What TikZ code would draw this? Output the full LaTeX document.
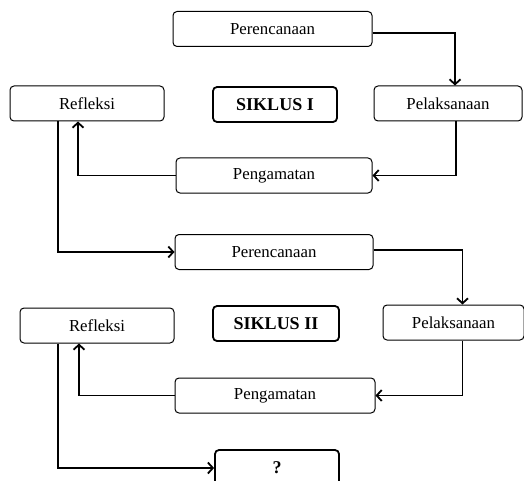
\documentclass[tikz,border=0pt]{standalone}
\usepackage{fontspec}
\setmainfont{Liberation Serif}
\usetikzlibrary{arrows.meta}
\begin{document}
\begin{tikzpicture}[x=1pt,y=-1pt,
  box/.style={draw, rounded corners=4pt, line width=1pt, minimum height=35pt, inner sep=0pt, font=\fontsize{16.8}{19}\selectfont},
  sbox/.style={box, line width=1.8pt, font=\fontsize{18}{21}\selectfont\bfseries},
  arr/.style={line width=1.8pt, -{Straight Barb[length=5pt,width=11pt,line width=1.8pt]}}]
\useasboundingbox (0,0) rectangle (524,481);
\clip (0,0) rectangle (524,481);
\node[box, minimum width=199pt] (p1) at (272.5,29) {Perencanaan};
\node[box, minimum width=154pt] (r1) at (87,103.5) {Refleksi};
\node[sbox, minimum width=124pt] (s1) at (275,104.5) {SIKLUS I};
\node[box, minimum width=148pt] (l1) at (448,103.5) {Pelaksanaan};
\node[box, minimum width=196pt] (g1) at (274,175.5) {Pengamatan};
\node[box, minimum width=198pt] (p2) at (274,252) {Perencanaan};
\node[sbox, minimum width=126pt] (s2) at (276,323.5) {SIKLUS II};
\node[box, minimum width=154pt] (r2) at (97,325.5) {Refleksi};
\node[box, minimum width=141pt] (l2) at (453.5,322.5) {Pelaksanaan};
\node[box, minimum width=200pt] (g2) at (275,395.5) {Pengamatan};
\node[sbox, minimum width=124pt, minimum height=36pt] (q) at (277,468) {?};
\draw[arr] ([yshift=-4pt]p1.east) -| ([xshift=7pt]l1.north);
\draw[arr] ([xshift=8pt]l1.south) |- (g1.east);
\draw[arr] (g1.west) -| ([xshift=-9pt]r1.south);
\draw[arr] ([xshift=-29pt]r1.south) |- (p2.west);
\draw[arr] ([yshift=2pt]p2.east) -| ([xshift=9pt]l2.north);
\draw[arr] ([xshift=9pt]l2.south) |- (g2.east);
\draw[arr] (g2.west) -| ([xshift=-18pt]r2.south);
\draw[arr] ([xshift=-39pt]r2.south) |- (q.west);
\end{tikzpicture}
\end{document}
